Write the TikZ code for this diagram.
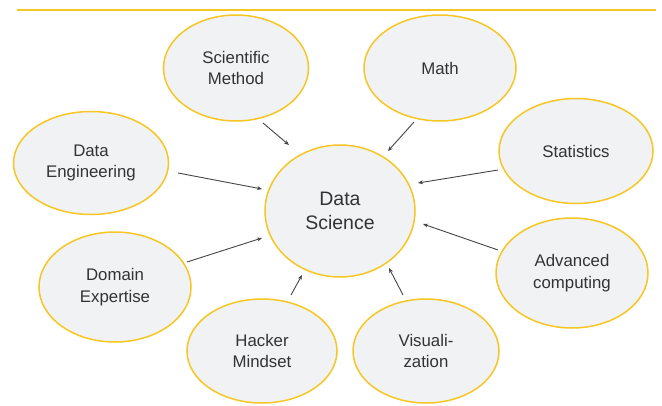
\documentclass[tikz,border=0pt]{standalone}
\usepackage{fontspec}
\setmainfont{Liberation Sans}
\usetikzlibrary{shapes.geometric,arrows.meta}
\definecolor{gold}{HTML}{F6C624}
\definecolor{bubble}{HTML}{F1F2F4}
\definecolor{ink}{HTML}{333333}
\definecolor{wire}{HTML}{444444}
\tikzset{
  bubble/.style={ellipse, draw=gold, line width=1.5pt, fill=bubble, inner sep=0pt,
    text=ink, align=center, font=\fontsize{16.8}{21.5}\selectfont},
  hub/.style={bubble, font=\fontsize{19.5}{24}\selectfont},
  feed/.style={draw=wire, line width=0.9pt, -{Stealth[length=5pt,width=4pt]}},
}
\begin{document}
\begin{tikzpicture}[x=1pt,y=-1pt]
\useasboundingbox (0,0) rectangle (662,405);
% header rule
\draw[gold, line width=2.2pt] (17,10) -- (656,10) coordinate (ruleend);

% central topic
\node[hub, minimum width=150pt, minimum height=132pt] (ds) at (340,211) {Data\\Science};

% surrounding topics
\node[bubble, minimum width=145pt, minimum height=106pt] (sm) at (236,68) {Scientific\\Method};
\node[bubble, minimum width=152pt, minimum height=106pt] (ma) at (440,68) {Math};
\node[bubble, minimum width=155pt, minimum height=103pt] (de) at (91,163) {Data\\Engineering};
\node[bubble, minimum width=154pt, minimum height=105pt] (st) at (576,151) {Statistics};
\node[bubble, minimum width=152pt, minimum height=110pt] (dx) at (115,287) {Domain\\Expertise};
\node[bubble, minimum width=152pt, minimum height=110pt] (ac) at (572,273) {Advanced\\computing};
\node[bubble, minimum width=150pt, minimum height=104pt] (hm) at (262,351) {Hacker\\Mindset};
\node[bubble, minimum width=146pt, minimum height=104pt] (vz) at (426,351) {Visuali-\\zation};

% arrow end points, set a little off the outlines
\coordinate (sm-o) at (263,123);  \coordinate (sm-i) at (289,145);
\coordinate (ma-o) at (414,122);  \coordinate (ma-i) at (388,151);
\coordinate (de-o) at (178,173);  \coordinate (de-i) at (262,189);
\coordinate (st-o) at (498,170);  \coordinate (st-i) at (418,183);
\coordinate (dx-o) at (187,262);  \coordinate (dx-i) at (262,238);
\coordinate (ac-o) at (498,250);  \coordinate (ac-i) at (423,224);
\coordinate (hm-o) at (291,295);  \coordinate (hm-i) at (302,275);
\coordinate (vz-o) at (403,295);  \coordinate (vz-i) at (389,268);

\draw[feed] (sm-o) -- (sm-i);
\draw[feed] (ma-o) -- (ma-i);
\draw[feed] (de-o) -- (de-i);
\draw[feed] (st-o) -- (st-i);
\draw[feed] (dx-o) -- (dx-i);
\draw[feed] (ac-o) -- (ac-i);
\draw[feed] (hm-o) -- (hm-i);
\draw[feed] (vz-o) -- (vz-i);
\end{tikzpicture}
\end{document}
